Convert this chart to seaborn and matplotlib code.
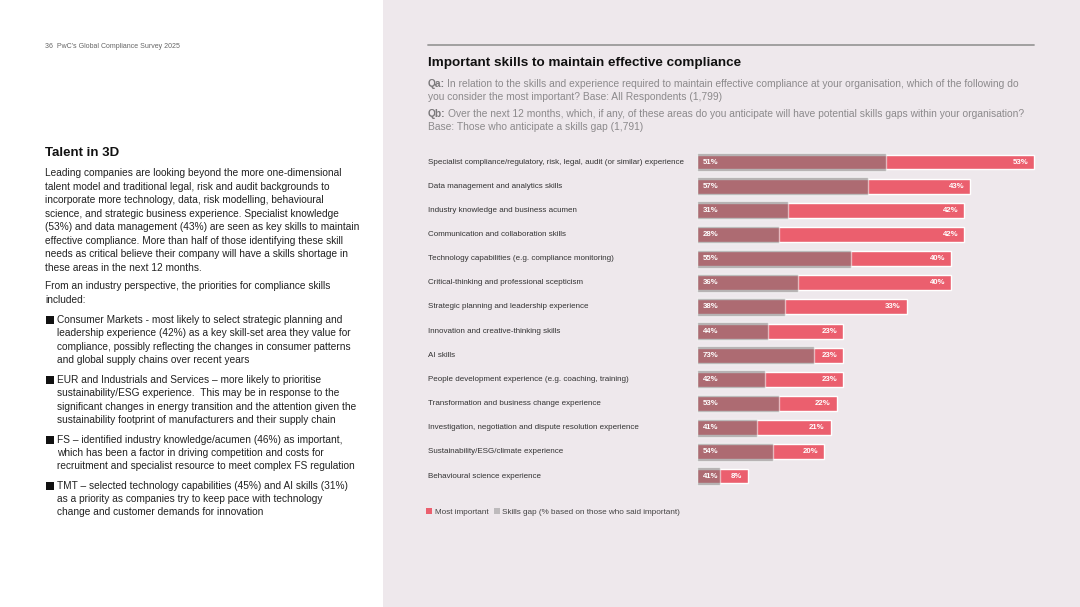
import matplotlib
matplotlib.use("Agg")
import matplotlib.pyplot as plt
import matplotlib.transforms as mtransforms
from matplotlib.patches import Rectangle, Patch
import seaborn as sns
import pandas as pd

# ---------------- data ----------------
skills = [
    "Specialist compliance/regulatory, risk, legal, audit (or similar) experience",
    "Data management and analytics skills",
    "Industry knowledge and business acumen",
    "Communication and collaboration skills",
    "Technology capabilities (e.g. compliance monitoring)",
    "Critical-thinking and professional scepticism",
    "Strategic planning and leadership experience",
    "Innovation and creative-thinking skills",
    "AI skills",
    "People development experience (e.g. coaching, training)",
    "Transformation and business change experience",
    "Investigation, negotiation and dispute resolution experience",
    "Sustainability/ESG/climate experience",
    "Behavioural science experience",
]
most_important = [53, 43, 42, 42, 40, 40, 33, 23, 23, 23, 22, 21, 20, 8]
skills_gap = [51, 57, 31, 28, 55, 36, 38, 44, 73, 42, 53, 41, 54, 41]

legend_labels = ["Most important", "Skills gap (% based on those who said important)"]

title = "Important skills to maintain effective compliance"
qa_lines = ["In relation to the skills and experience required to maintain effective compliance at your organisation, which of the following do",
            "you consider the most important? Base: All Respondents (1,799)"]
qb_lines = ["Over the next 12 months, which, if any, of these areas do you anticipate will have potential skills gaps within your organisation?",
            "Base: Those who anticipate a skills gap (1,791)"]

header = "36  PwC\u2019s Global Compliance Survey 2025"
side_title = "Talent in 3D"
para1 = ["Leading companies are looking beyond the more one-dimensional",
         "talent model and traditional legal, risk and audit backgrounds to",
         "incorporate more technology, data, risk modelling, behavioural",
         "science, and strategic business experience. Specialist knowledge",
         "(53%) and data management (43%) are seen as key skills to maintain",
         "effective compliance. More than half of those identifying these skill",
         "needs as critical believe their company will have a skills shortage in",
         "these areas in the next 12 months."]
para2 = ["From an industry perspective, the priorities for compliance skills",
         "included:"]
bullets = [
    ["Consumer Markets - most likely to select strategic planning and",
     "leadership experience (42%) as a key skill-set area they value for",
     "compliance, possibly reflecting the changes in consumer patterns",
     "and global supply chains over recent years"],
    ["EUR and Industrials and Services \u2013 more likely to prioritise",
     "sustainability/ESG experience.  This may be in response to the",
     "significant changes in energy transition and the attention given the",
     "sustainability footprint of manufacturers and their supply chain"],
    ["FS \u2013 identified industry knowledge/acumen (46%) as important,",
     "which has been a factor in driving competition and costs for",
     "recruitment and specialist resource to meet complex FS regulation"],
    ["TMT \u2013 selected technology capabilities (45%) and AI skills (31%)",
     "as a priority as companies try to keep pace with technology",
     "change and customer demands for innovation"],
]

# ---------------- style ----------------
RED = "#EB5F6E"
GREY = "#7A7676"
PANEL = "#EEE8EC"
GAP_SCALE = 1.1

sns.set_theme(style="white")
plt.rcParams["font.family"] = ["Liberation Sans", "DejaVu Sans"]

W, H = 1080, 607
fig = plt.figure(figsize=(W / 100, H / 100), dpi=100, facecolor="white")


def fx(x):
    return x / W


def fy(y):
    return 1 - y / H


# right panel background
fig.patches.append(Rectangle((fx(383), 0), 1 - fx(383), 1, transform=fig.transFigure,
                             facecolor=PANEL, edgecolor="none", zorder=-10))

# ---------------- left text panel ----------------
fig.text(fx(45), fy(47), header, fontsize=5, color="#666666", va="center")
fig.text(fx(45), fy(153), side_title, fontsize=9.5, fontweight="bold", color="#111111", va="center")
BODY = 7.3
ys1 = [173, 187, 200, 214, 227, 241, 254, 268]
for line, y in zip(para1, ys1):
    fig.text(fx(45), fy(y), line, fontsize=BODY, color="#222222", va="center")
for line, y in zip(para2, [286, 300]):
    fig.text(fx(45), fy(y), line, fontsize=BODY, color="#222222", va="center")
bullet_ys = [[320, 333, 347, 360], [380, 393, 407, 420], [440, 453, 466], [486, 499, 512]]
for lines, ys in zip(bullets, bullet_ys):
    fig.patches.append(Rectangle((fx(46), fy(ys[0] + 4)), fx(8), 8 / H,
                                 transform=fig.transFigure, facecolor="#111111", edgecolor="none"))
    for line, y in zip(lines, ys):
        fig.text(fx(57), fy(y), line, fontsize=BODY, color="#222222", va="center")

# ---------------- right panel header ----------------
fig.add_artist(plt.Line2D([fx(428), fx(1034)], [fy(45), fy(45)], transform=fig.transFigure,
                          color="#9A9A9A", lw=1.3))
fig.text(fx(428), fy(63), title, fontsize=9.7, fontweight="bold", color="#111111", va="center")

renderer = fig.canvas.get_renderer()
QCOL = "#8C8A8C"
QFS = 7.4
for prefix, lines, ys in [("Qa:", qa_lines, [84, 97]), ("Qb:", qb_lines, [114, 127])]:
    t = fig.text(fx(428), fy(ys[0]), prefix, fontsize=QFS, fontweight="bold", color="#7A787A", va="center")
    bb = t.get_window_extent(renderer)
    fig.text(bb.x1 / W + fx(2), fy(ys[0]), lines[0], fontsize=QFS, color=QCOL, va="center")
    fig.text(fx(428), fy(ys[1]), lines[1], fontsize=QFS, color=QCOL, va="center")

# ---------------- bar chart ----------------
row0, rowN = 162, 476
step = (rowN - row0) / (len(skills) - 1)
top_px = row0 - step / 2
bot_px = rowN + step / 2
x0_px, px_per_unit, xmax = 697, 6.36, 60
ax = fig.add_axes([fx(x0_px), fy(bot_px), px_per_unit * xmax / W, (bot_px - top_px) / H])
ax.set_facecolor("none")

df = pd.DataFrame({"skill": skills, "most": most_important, "gap": skills_gap})
df["gap_len"] = df["most"] * df["gap"] / 100 * GAP_SCALE

sns.barplot(data=df, x="most", y="skill", orient="h", color=RED, saturation=1,
            width=0.62, ax=ax, zorder=2)
sns.barplot(data=df, x="gap_len", y="skill", orient="h", color=GREY, saturation=1,
            alpha=0.55, width=0.74, ax=ax, zorder=3)

ax.set_xlim(0, xmax)
ax.set_ylim(len(skills) - 0.5, -0.5)
ax.axis("off")

trans = mtransforms.blended_transform_factory(fig.transFigure, ax.transData)
for i, row in df.iterrows():
    ax.text(fx(428), i, row["skill"], transform=trans, fontsize=5.75, color="#333333",
            va="center", ha="left")
    ax.text(6 / px_per_unit, i, f"{row['gap']}%", fontsize=5.6, fontweight="bold",
            color="white", va="center", ha="left", zorder=5)
    ax.text(row["most"] - 6 / px_per_unit, i, f"{row['most']}%", fontsize=5.6,
            fontweight="bold", color="white", va="center", ha="right", zorder=5)

# legend
handles = [Patch(facecolor=RED, edgecolor="none"), Patch(facecolor="#BDBABC", edgecolor="none")]
fig.legend(handles, legend_labels, loc="center left", bbox_to_anchor=(fx(426), fy(512)),
           ncol=2, frameon=False, fontsize=5.85, handlelength=0.75, handleheight=0.75,
           handletextpad=0.3, columnspacing=0.7, borderpad=0, borderaxespad=0,
           labelcolor="#444444")

fig.savefig("out.png", dpi=100, facecolor=fig.get_facecolor())
